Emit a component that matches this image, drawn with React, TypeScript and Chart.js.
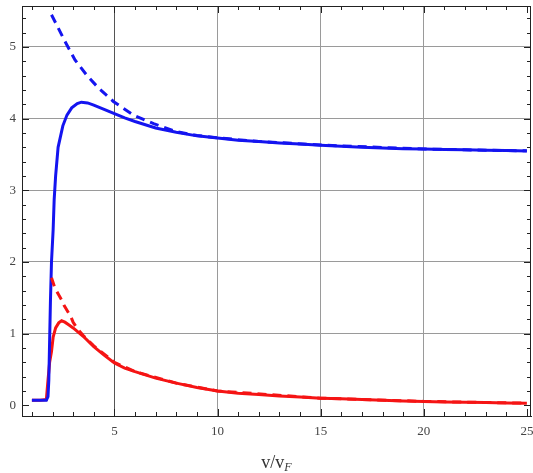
import React, { useEffect, useRef } from "react";
import { Chart, registerables } from "chart.js";

Chart.register(...registerables);

// ---- data ----
const blueSolidX = [1.0, 1.3, 1.7, 1.78, 1.82, 1.9, 1.95, 2.03, 2.08, 2.15, 2.27, 2.5, 2.7, 2.93, 3.2, 3.4, 3.7, 4.0, 4.5, 5, 5.5, 6, 7, 8, 9, 10, 11, 12, 13, 14, 15, 16, 17, 18, 19, 20, 21, 22, 23, 24, 25];
const blueSolidY = [0.07, 0.07, 0.07, 0.12, 0.35, 1.47, 2.0, 2.45, 2.87, 3.2, 3.6, 3.9, 4.05, 4.15, 4.21, 4.23, 4.22, 4.19, 4.13, 4.07, 4.01, 3.96, 3.87, 3.81, 3.76, 3.73, 3.7, 3.68, 3.66, 3.645, 3.63, 3.615, 3.6, 3.59, 3.58, 3.575, 3.57, 3.565, 3.56, 3.555, 3.55];

const blueDashX = [1.95, 2.11, 2.6, 3.09, 3.65, 4.22, 4.95, 5.92, 6.9, 8, 9, 10, 12, 15, 20, 25];
const blueDashY = [5.45, 5.36, 5.08, 4.82, 4.61, 4.43, 4.24, 4.05, 3.93, 3.82, 3.765, 3.732, 3.682, 3.632, 3.576, 3.551];

const redSolidX = [1.0, 1.4, 1.7, 1.78, 1.86, 1.95, 2.03, 2.15, 2.3, 2.44, 2.6, 2.8, 3.0, 3.5, 4, 4.5, 5, 5.5, 6, 7, 8, 9, 10, 11, 12, 13, 14, 15, 16, 17, 18, 19, 20, 21, 22, 23, 24, 25];
const redSolidY = [0.07, 0.07, 0.08, 0.35, 0.6, 0.75, 0.95, 1.08, 1.15, 1.18, 1.16, 1.12, 1.08, 0.96, 0.82, 0.7, 0.59, 0.52, 0.47, 0.38, 0.31, 0.25, 0.2, 0.17, 0.15, 0.13, 0.115, 0.1, 0.09, 0.08, 0.07, 0.062, 0.055, 0.048, 0.043, 0.038, 0.034, 0.03];

const redDashX = [1.95, 2.11, 2.44, 2.55, 2.88, 3.0, 3.2, 3.5, 4, 5, 6, 8, 10, 15, 20, 25];
const redDashY = [1.78, 1.64, 1.47, 1.4, 1.24, 1.16, 1.07, 0.97, 0.83, 0.6, 0.47, 0.31, 0.2, 0.1, 0.055, 0.03];

const xTickLabels = [5, 10, 15, 20, 25];
const yTickLabels = [0, 1, 2, 3, 4, 5];

const toPts = (xs: number[], ys: number[]) => xs.map((x, i) => ({ x, y: ys[i] }));

const frameTicks = {
  id: "frameTicks",
  afterDraw(chart: any) {
    const { ctx, chartArea: a, scales } = chart;
    const xs = scales.x;
    const ys = scales.y;
    ctx.save();
    ctx.strokeStyle = "#222";
    ctx.lineWidth = 1;
    // top and right frame
    ctx.beginPath();
    ctx.moveTo(a.left, a.top + 0.5);
    ctx.lineTo(a.right, a.top + 0.5);
    ctx.moveTo(a.right - 0.5, a.top);
    ctx.lineTo(a.right - 0.5, a.bottom);
    ctx.stroke();
    // x ticks (inward), minor at every integer
    ctx.beginPath();
    for (let v = 1; v <= 25; v++) {
      const px = Math.round(xs.getPixelForValue(v)) + 0.5;
      if (px < a.left || px > a.right) continue;
      const len = v % 5 === 0 ? 7 : 4;
      ctx.moveTo(px, a.bottom);
      ctx.lineTo(px, a.bottom - len);
      ctx.moveTo(px, a.top);
      ctx.lineTo(px, a.top + len);
    }
    // y ticks (inward), minor every 0.2
    for (let k = 0; k <= 27; k++) {
      const v = k / 5;
      const py = Math.round(ys.getPixelForValue(v)) + 0.5;
      if (py < a.top || py > a.bottom) continue;
      const len = k % 5 === 0 ? 7 : 4;
      ctx.moveTo(a.left, py);
      ctx.lineTo(a.left + len, py);
      ctx.moveTo(a.right, py);
      ctx.lineTo(a.right - len, py);
    }
    ctx.stroke();
    // axis title v/v_F
    const cx = (a.left + a.right) / 2;
    const base = 468;
    ctx.fillStyle = "#333";
    ctx.textBaseline = "alphabetic";
    ctx.textAlign = "left";
    const main = "v/v";
    ctx.font = '18px "Liberation Serif"';
    const w1 = ctx.measureText(main).width;
    ctx.font = 'italic 12px "Liberation Serif"';
    const w2 = ctx.measureText("F").width;
    const start = cx - (w1 + w2) / 2;
    ctx.font = '18px "Liberation Serif"';
    ctx.fillText(main, start, base);
    ctx.font = 'italic 12px "Liberation Serif"';
    ctx.fillText("F", start + w1, base + 3);
    ctx.restore();
  },
};

export default function App() {
  const ref = useRef<HTMLCanvasElement>(null);
  useEffect(() => {
    if (!ref.current) return;
    const chart = new Chart(ref.current, {
      type: "line",
      data: {
        datasets: [
          {
            data: toPts(blueDashX, blueDashY),
            borderColor: "#1414f0",
            borderWidth: 3,
            borderDash: [9, 6],
            pointRadius: 0,
            fill: false,
          },
          {
            data: toPts(redDashX, redDashY),
            borderColor: "#f51414",
            borderWidth: 3,
            borderDash: [9, 6],
            pointRadius: 0,
            fill: false,
          },
          {
            data: toPts(blueSolidX, blueSolidY),
            borderColor: "#1414f0",
            borderWidth: 3,
            pointRadius: 0,
            fill: false,
          },
          {
            data: toPts(redSolidX, redSolidY),
            borderColor: "#f51414",
            borderWidth: 3,
            pointRadius: 0,
            fill: false,
          },
        ],
      },
      options: {
        animation: false,
        responsive: false,
        devicePixelRatio: 1,
        layout: { padding: { top: 6, right: 2, left: 0, bottom: 0 } },
        plugins: { legend: { display: false }, tooltip: { enabled: false } },
        scales: {
          x: {
            type: "linear",
            min: 0.52,
            max: 25.2,
            afterFit: (s: any) => {
              s.height = 57;
              s.paddingLeft = 0;
              s.paddingRight = 0;
            },
            border: { display: true, color: "#222", width: 1 },
            grid: {
              drawTicks: false,
              color: (c: any) => {
                const v = c.tick && c.tick.value;
                if (v === 5) return "#555";
                if (v === 10 || v === 15 || v === 20) return "#9a9a9a";
                return "rgba(0,0,0,0)";
              },
            },
            ticks: {
              stepSize: 5,
              includeBounds: false,
              padding: 8,
              color: "#444",
              font: { family: "Liberation Serif", size: 13 },
              maxRotation: 0,
              callback: (v: any) => (xTickLabels.includes(Number(v)) ? String(v) : ""),
            },
          },
          y: {
            type: "linear",
            min: -0.149,
            max: 5.572,
            afterFit: (s: any) => {
              s.width = 22;
              s.paddingTop = 0;
              s.paddingBottom = 0;
            },
            border: { display: true, color: "#222", width: 1 },
            grid: {
              drawTicks: false,
              color: (c: any) => {
                const v = c.tick && c.tick.value;
                if (v >= 1 && v <= 5 && Number.isInteger(v)) return "#9a9a9a";
                return "rgba(0,0,0,0)";
              },
            },
            ticks: {
              stepSize: 1,
              includeBounds: false,
              padding: 6,
              color: "#444",
              font: { family: "Liberation Serif", size: 13 },
              callback: (v: any) => (yTickLabels.includes(Number(v)) ? String(v) : ""),
            },
          },
        },
      },
      plugins: [frameTicks],
    });
    return () => chart.destroy();
  }, []);
  return (
    <div style={{ position: "fixed", left: 0, top: 0, width: 533, height: 473, background: "#fff" }}>
      <canvas ref={ref} width={533} height={473} style={{ width: 533, height: 473, display: "block" }} />
    </div>
  );
}
